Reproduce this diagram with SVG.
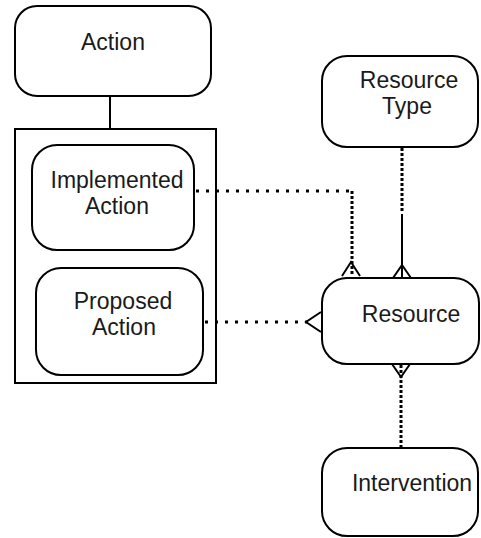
<svg xmlns="http://www.w3.org/2000/svg" width="481" height="538" viewBox="0 0 481 538">
<style>
.box{fill:#fff;stroke:#000;stroke-width:2}
.frame{fill:none;stroke:#000;stroke-width:2}
.lbl{font-family:"Liberation Sans",Arial,sans-serif;font-size:23px;fill:#1a1a1a;text-anchor:middle}
.dotH{fill:none;stroke:#000;stroke-width:3;stroke-dasharray:3 7}
.dotV{fill:none;stroke:#000;stroke-width:3;stroke-dasharray:3 2}
.solid{fill:none;stroke:#000;stroke-width:2}
</style>
<rect width="481" height="538" fill="#fff"/>
<g id="action">
<rect class="box" x="15" y="6" width="196" height="90" rx="22"/>
<text class="lbl" x="113" y="50">Action</text>
</g>
<g id="action-group">
<rect class="frame" x="15" y="129" width="201" height="254"/>
</g>
<g id="implemented-action">
<rect class="box" x="32" y="145" width="162" height="105" rx="25"/>
<text class="lbl" x="117" y="188">Implemented</text>
<text class="lbl" x="117" y="214">Action</text>
</g>
<g id="proposed-action">
<rect class="box" x="36" y="268" width="167" height="107" rx="25"/>
<text class="lbl" x="123" y="309">Proposed</text>
<text class="lbl" x="124" y="335">Action</text>
</g>
<g id="resource-type">
<rect class="box" x="322" y="56" width="156" height="91" rx="25"/>
<text class="lbl" x="409" y="88">Resource</text>
<text class="lbl" x="407" y="114">Type</text>
</g>
<g id="resource">
<rect class="box" x="322" y="278" width="157" height="86" rx="25"/>
<text class="lbl" x="411" y="322">Resource</text>
</g>
<g id="intervention">
<rect class="box" x="322" y="448" width="156" height="88" rx="25"/>
<text class="lbl" x="412" y="491">Intervention</text>
</g>
<g id="connectors">
<line class="solid" x1="110" y1="96" x2="110" y2="129"/>
<line class="dotH" x1="196" y1="191" x2="352" y2="191"/>
<line class="dotV" x1="352" y1="191" x2="352" y2="276"/>
<polyline class="solid" points="342,276 351,262 360,276"/>
<line class="dotH" x1="205" y1="322" x2="310" y2="322"/>
<polyline class="solid" points="321,312 306,322 321,332"/>
<line class="dotV" x1="402" y1="148" x2="402" y2="213"/>
<line class="solid" x1="402" y1="214" x2="402" y2="278"/>
<polyline class="solid" points="393,278 402,265 411,278"/>
<line class="dotV" x1="401" y1="365" x2="401" y2="448"/>
<polyline class="solid" points="392,364 401,377 410,364"/>
</g>
</svg>
